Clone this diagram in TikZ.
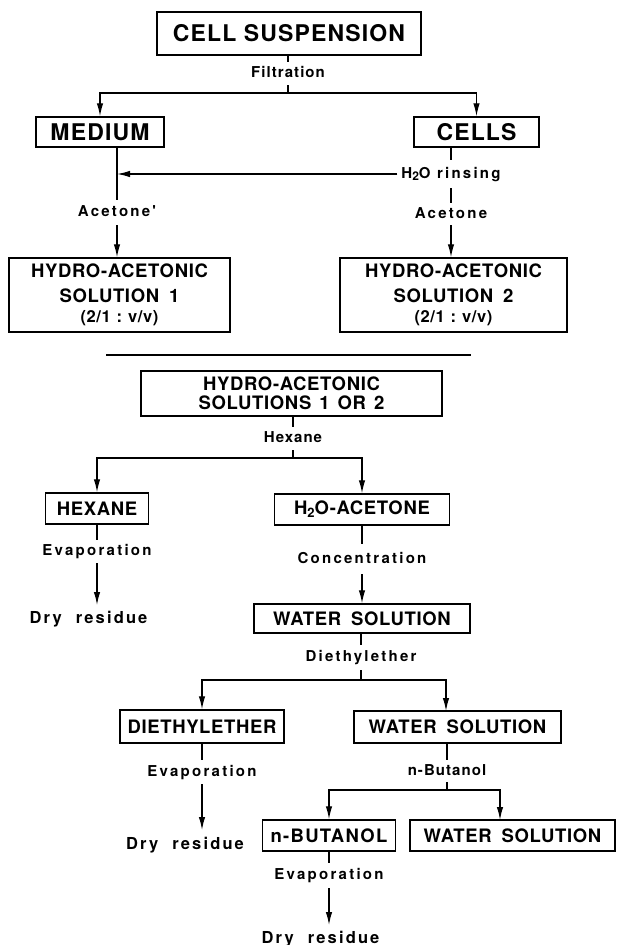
\documentclass[tikz,border=0pt]{standalone}
\usepackage{fontspec}
\usetikzlibrary{arrows.meta}
\setmainfont{TeX Gyre Heros}
\newfontfamily\FntBig{TeX Gyre Heros}[LetterSpace=5]
\newfontfamily\FntBx{TeX Gyre Heros}[LetterSpace=3.5]
\newfontfamily\FntBxW{TeX Gyre Heros}[LetterSpace=7]
\newfontfamily\FntLab{TeX Gyre Heros}[LetterSpace=7]
\newfontfamily\FntLabW{TeX Gyre Heros}[LetterSpace=15]
\newfontfamily\FntDry{TeX Gyre Heros}[LetterSpace=13]
\begin{document}
\begin{tikzpicture}[x=1pt,y=-1pt,
  bx/.style={draw, line width=1.4pt, inner sep=0pt, align=center,
    font=\FntBx\bfseries\fontsize{18.5}{20}\selectfont},
  bigbx/.style={bx, font=\FntBig\bfseries\fontsize{23}{24}\selectfont},
  lbl/.style={inner xsep=4pt, inner ysep=0pt, text height=11pt, text depth=3pt,
    minimum height=#1, font=\FntLab\bfseries\fontsize{15}{16}\selectfont},
  lbl/.default=23,
  lblw/.style={lbl=#1, font=\FntLabW\bfseries\fontsize{15}{16}\selectfont},
  lblw/.default=23,
  dry/.style={anchor=base, inner sep=0pt, font=\FntDry\bfseries\fontsize{16.5}{18}\selectfont},
  conn/.style={line width=1.3pt},
  arr/.style={conn, -{Latex[length=13pt,width=6.5pt]}}
]
\useasboundingbox (0,0) rectangle (616,945);
\fill[white] (0,0) rectangle (616,945);

% ---------- upper part ----------
\node[bigbx, minimum width=264, minimum height=43] (cs) at (289,33.5) {CELL SUSPENSION};
\node[lbl=23] (filt) at (288,73.5) {Filtration};
\coordinate (j1) at (288,93);
\node[bigbx, minimum width=128, minimum height=30] (med) at (100,132) {MEDIUM};
\node[bigbx, minimum width=125, minimum height=30] (cells) at (476.5,132) {CELLS};
\node[lblw=25] (acet1) at (117,212.5) {Acetone'};
\coordinate (m1) at (117,174);
\node[lblw=28] (rins) at (451,174) {H\raisebox{-2.5pt}{\fontsize{12}{12}\selectfont 2}O rinsing};
\node[lblw=22] (acet2) at (451,214) {Acetone};
\node[bx, minimum width=221, minimum height=74] (h1) at (119.5,295)
  {HYDRO-ACETONIC\\[5pt] SOLUTION\hspace{10pt}1\\ {\fontsize{16.5}{20}\selectfont (2/1\hspace{6pt}:\hspace{6pt}v/v)}};
\node[bx, minimum width=227, minimum height=74] (h2) at (453.5,295)
  {HYDRO-ACETONIC\\[5pt] SOLUTION\hspace{10pt}2\\ {\fontsize{16.5}{20}\selectfont (2/1\hspace{6pt}:\hspace{6pt}v/v)}};

\draw[conn] (cs.south -| filt) -- (filt);
\draw[conn] (filt) -- (j1);
\draw[arr] (j1) -| (med.north);
\draw[arr] (j1) -| (cells.north);
\draw[conn] (med.south -| acet1) -- (acet1);
\draw[arr] (acet1) -- (acet1 |- h1.north);
\draw[conn] (cells.south -| rins) -- (rins);
\draw[conn] (rins) -- (acet2);
\draw[arr] (acet2) -- (acet2 |- h2.north);
\draw[arr] (rins.west) -- (m1);

% ---------- separator ----------
\coordinate (sepL) at (106,355);
\coordinate (sepR) at (471,355);
\draw[conn] (sepL) -- (sepR);

% ---------- lower part ----------
\node[bx, minimum width=301, minimum height=45, font=\FntBx\bfseries\fontsize{18.5}{19}\selectfont] (hs) at (291.5,393.5)
  {HYDRO-ACETONIC\\ SOLUTIONS\hspace{8pt}1\hspace{8pt}OR\hspace{8pt}2};
\node[lbl=23] (hexl) at (293,438.5) {Hexane};
\coordinate (j2) at (293,458);
\node[bx, minimum width=103, minimum height=31] (hex) at (97,508.5) {HEXANE};
\node[bx, minimum width=175, minimum height=31] (h2o) at (362,509.5)
  {H\raisebox{-3pt}{\fontsize{13}{13}\selectfont 2}O-ACETONE};
\node[lblw=23] (evap1) at (97,551.5) {Evaporation};
\coordinate (d1) at (97,605);
\node[dry] (dry1) at (88.5,623) {Dry\hspace{14pt}residue};
\node[lblw=30] (conc) at (362,559) {Concentration};
\node[bx, minimum width=216, minimum height=29] (ws1) at (362,618.5) {WATER\hspace{10pt}SOLUTION};
\node[lblw=25] (diel) at (361,657.5) {Diethylether};
\coordinate (j3) at (361,680);
\node[bx, minimum width=164, minimum height=33] (die) at (202,726.5) {DIETHYLETHER};
\coordinate (a3) at (446,711);
\node[bx, minimum width=207, minimum height=32] (ws2) at (457.5,727) {WATER\hspace{10pt}SOLUTION};
\node[lblw=24] (evap2) at (202,772) {Evaporation};
\coordinate (d2) at (202,830);
\node[dry] (dry2) at (185,849) {Dry\hspace{14pt}residue};
\node[lbl=22] (nbut) at (447,771) {n-Butanol};
\coordinate (j4) at (447,790);
\node[bx, minimum width=133, minimum height=31, font=\FntBxW\bfseries\fontsize{18.5}{20}\selectfont] (but) at (329,835.5) {n-BUTANOL};
\coordinate (a4) at (500,820);
\node[bx, minimum width=205, minimum height=31] (ws3) at (512.5,835.5) {WATER\hspace{10pt}SOLUTION};
\node[lblw=25] (evap3) at (329,875.5) {Evaporation};
\coordinate (d3) at (329,925);
\node[dry] (dry3) at (320.5,943) {Dry\hspace{14pt}residue};

\draw[conn] (hs.south -| hexl) -- (hexl);
\draw[conn] (hexl) -- (j2);
\draw[arr] (j2) -| (hex.north);
\draw[arr] (j2) -| (h2o.north);
\draw[conn] (hex) -- (evap1);
\draw[arr] (evap1) -- (d1);
\draw[conn] (h2o) -- (conc);
\draw[arr] (conc) -- (ws1);
\draw[conn] (ws1.south -| diel) -- (diel);
\draw[conn] (diel) -- (j3);
\draw[arr] (j3) -| (die.north);
\draw[arr] (j3) -| (a3);
\draw[conn] (die) -- (evap2);
\draw[arr] (evap2) -- (d2);
\draw[conn] (ws2.south -| nbut) -- (nbut);
\draw[conn] (nbut) -- (j4);
\draw[arr] (j4) -| (but.north);
\draw[arr] (j4) -| (a4);
\draw[conn] (but) -- (evap3);
\draw[arr] (evap3) -- (d3);
\end{tikzpicture}
\end{document}
